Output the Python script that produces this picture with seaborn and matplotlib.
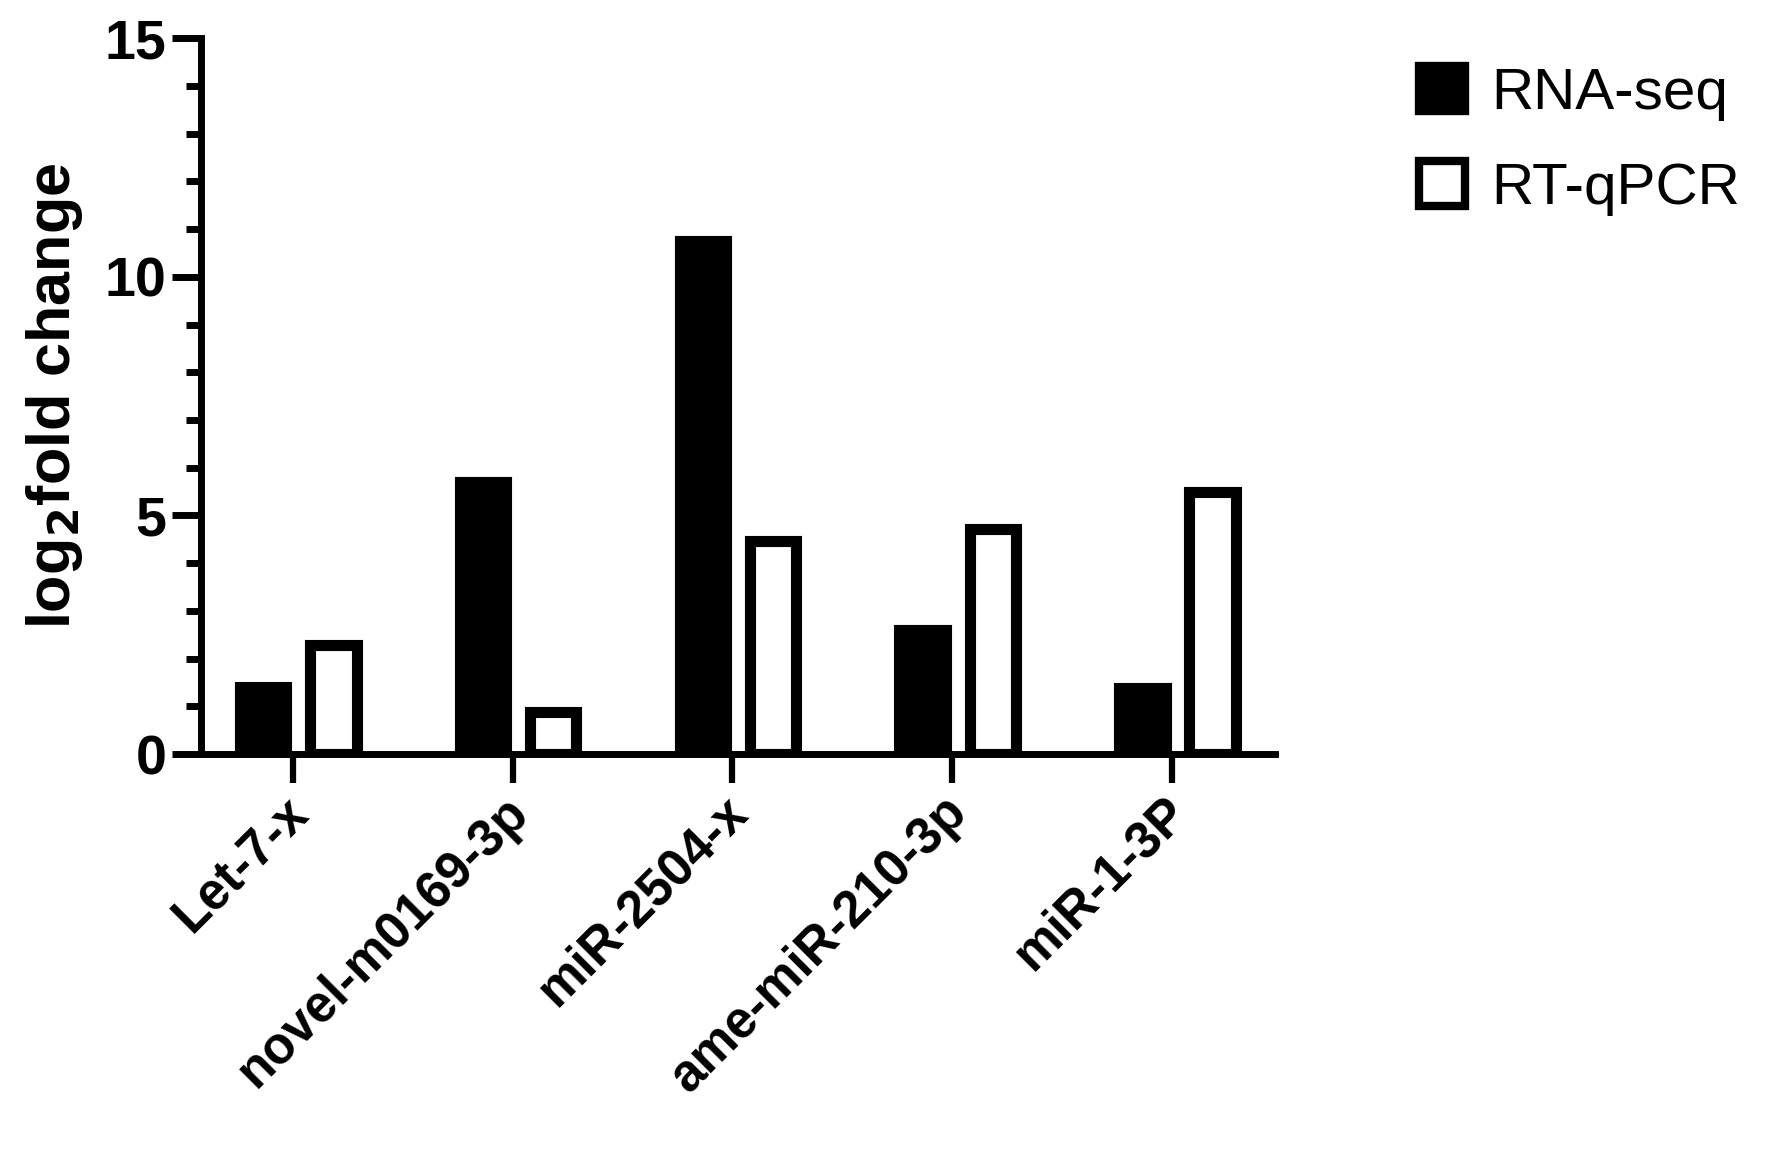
import numpy as np
import pandas as pd
import matplotlib
matplotlib.use("Agg")
import matplotlib.pyplot as plt
import matplotlib.transforms as mtransforms
import seaborn as sns
from matplotlib.ticker import MultipleLocator

# values
mirnas = ["Let-7-x", "novel-m0169-3p", "miR-2504-x", "ame-miR-210-3p", "miR-1-3P"]
rna_seq = [1.41, 5.71, 10.75, 2.59, 1.39]
rt_qpcr = [2.29, 0.88, 4.46, 4.71, 5.50]
methods = ["RNA-seq", "RT-qPCR"]
y_ticks = [0, 5, 10, 15]

df = pd.DataFrame({
    "miRNA": mirnas * 2,
    "log2FC": rna_seq + rt_qpcr,
    "Method": [methods[0]] * len(mirnas) + [methods[1]] * len(mirnas),
})

sns.set_style("ticks")
plt.rcParams["font.family"] = ["Liberation Sans", "DejaVu Sans"]
plt.rcParams.update({
    "text.color": "black", "axes.labelcolor": "black", "axes.edgecolor": "black",
    "xtick.color": "black", "ytick.color": "black",
})

fig = plt.figure(figsize=(17.69, 11.59), dpi=100)
ax = fig.add_axes([0.1136, 0.3494, 0.7208 - 0.1136, 0.967 - 0.3494])

sns.barplot(data=df, x="miRNA", y="log2FC", hue="Method", order=mirnas,
            hue_order=methods, palette={"RNA-seq": "black", "RT-qPCR": "white"},
            saturation=1, edgecolor="black", linewidth=8, width=0.64, gap=0.34,
            ax=ax)

ax.set_xlim(-0.443, 4.444)
ax.set_ylim(0, 15)
ax.set_yticks(y_ticks)
ax.yaxis.set_minor_locator(MultipleLocator(1))

for side in ["top", "right"]:
    ax.spines[side].set_visible(False)
for side in ["left", "bottom"]:
    ax.spines[side].set_linewidth(5)
    ax.spines[side].set_color("black")
    ax.spines[side].set_zorder(5)

ax.tick_params(axis="y", which="major", length=21, width=5, pad=4, labelsize=40)
ax.tick_params(axis="y", which="minor", length=11, width=5)
ax.tick_params(axis="x", which="major", length=21, width=4.5, pad=3, labelsize=37)
for lbl in ax.get_yticklabels():
    lbl.set_fontweight("bold")
# ticks sit a little left of the group centre in the original
ax.set_xticks(np.arange(len(mirnas)) - 0.025)
ax.set_xticklabels(mirnas, rotation=45, ha="right", rotation_mode="anchor",
                   fontweight="bold")
shift = mtransforms.ScaledTranslation(-7 / 72, 0, fig.dpi_scale_trans)
for lbl in ax.get_xticklabels():
    lbl.set_transform(lbl.get_transform() + shift)

ax.set_xlabel("")
ax.set_ylabel("log$_\\mathbf{2}$fold change", fontsize=44, fontweight="bold", labelpad=14)

handles, labels = ax.get_legend_handles_labels()
ax.get_legend().remove()
for h in handles:
    h.set_linewidth(6)
fig.legend(handles, labels, loc="upper left", bbox_to_anchor=(0.802, 0.943),
           frameon=False, fontsize=42, handlelength=0.8, handleheight=0.8,
           handletextpad=0.45, labelspacing=0.7, borderpad=0, borderaxespad=0)

fig.savefig("out.png", dpi=100, facecolor="white")
